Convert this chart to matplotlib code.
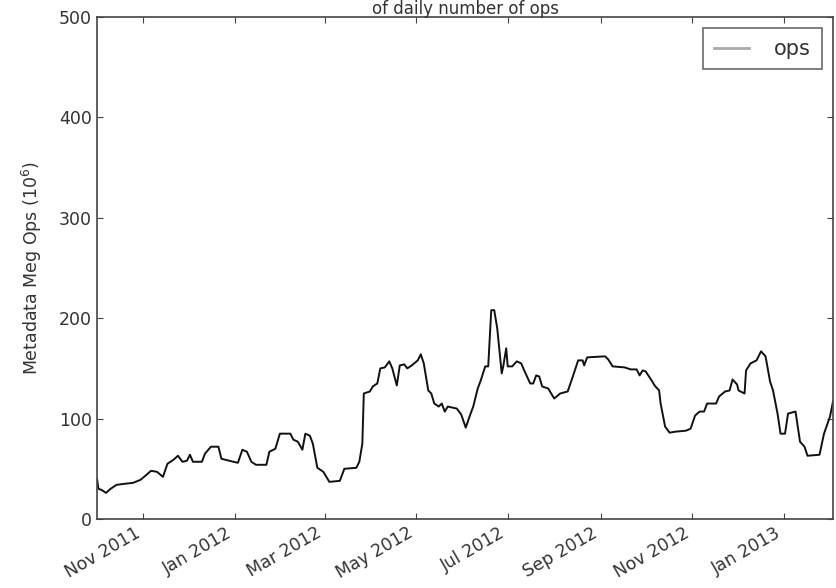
import pandas as pd
import matplotlib
matplotlib.use("Agg")
from matplotlib import pyplot as plt
import matplotlib.dates as mdates

# days since 2011-10-01 and the daily ops (millions)
start = pd.Timestamp("2011-10-01")
day = [0, 1, 3, 6, 9, 13, 18, 24, 29, 33, 36, 40, 44, 47, 51, 54, 57, 60, 62, 64,
       70, 72, 76, 81, 83, 91, 94, 97, 100, 103, 106, 113, 115, 119, 122, 129, 131,
       134, 137, 139, 142, 144, 147, 151, 155, 162, 165, 173, 175, 177, 178, 182,
       184, 187, 189, 192, 195, 197, 200, 202, 205, 207, 210, 214, 216, 218, 221,
       223, 225, 228, 230, 232, 234, 240, 243, 246, 249, 251, 254, 256, 259, 261,
       263, 265, 267, 270, 271, 273, 274, 277, 280, 283, 285, 289, 291, 293, 295,
       297, 301, 305, 309, 314, 317, 321, 324, 325, 327, 339, 341, 344, 352, 356,
       360, 362, 364, 366, 370, 372, 375, 376, 379, 382, 386, 393, 396, 399, 402,
       405, 407, 413, 415, 419, 422, 424, 427, 428, 432, 433, 436, 440, 443, 446,
       449, 451, 454, 456, 459, 461, 466, 469, 472, 474, 482, 485, 489, 491]
ops = [40, 30, 29, 26, 30, 34, 35, 36, 39, 44, 48, 47, 42, 55, 59, 63, 57, 58, 64, 57,
       57, 65, 72, 72, 60, 57, 56, 69, 67, 57, 54, 54, 67, 70, 85, 85, 79,
       77, 69, 85, 83, 75, 51, 47, 37, 38, 50, 51, 57, 75, 125, 127,
       132, 135, 150, 151, 157, 150, 133, 153, 154, 150, 153, 158, 164, 155, 128,
       125, 115, 112, 115, 107, 112, 110, 104, 91, 104, 112, 130, 138, 152, 152,
       208, 208, 190, 145, 152, 170, 152, 152, 157, 155, 148, 135, 135, 143, 142,
       132, 130, 120, 125, 127, 140, 158, 158, 153, 161, 162, 159, 152, 151, 149,
       149, 143, 148, 147, 138, 133, 128, 115, 92, 86, 87, 88, 90, 103, 107,
       107, 115, 115, 122, 127, 128, 139, 134, 128, 125, 148, 155, 158, 167, 162,
       137, 128, 105, 85, 85, 105, 107, 77, 72, 63, 64, 85, 102, 117]

dates = start + pd.to_timedelta(day, unit="D")
series = pd.Series(ops, index=dates)

fig = plt.figure(figsize=[8.36, 5.88], dpi=100)
ax = fig.add_axes([97 / 836, 69 / 588, 736 / 836, 502 / 588])

ax.plot(series.index, series.values, color="#111111", linewidth=1.4, label="ops")

ax.set_xlim(start, start + pd.Timedelta(days=491))
ax.set_ylim(0, 500)
ax.set_yticks([0, 100, 200, 300, 400, 500])
ax.xaxis.set_major_locator(mdates.MonthLocator(bymonth=[1, 3, 5, 7, 9, 11]))
ax.xaxis.set_major_formatter(mdates.DateFormatter("%b %Y"))
ax.tick_params(direction="in", top=True, right=True, length=4, labelsize=12.5,
               labelcolor="#333333", color="#444444")
plt.setp(ax.get_xticklabels(), rotation=30, ha="right")

for s in ax.spines.values():
    s.set_color("#444444")
    s.set_linewidth(1.2)

ax.set_ylabel(r"Metadata Meg Ops ($10^6$)", fontsize=12.5, color="#333333",
              labelpad=11)
# title sits right at the top edge, as in the cropped original
fig.text(465 / 836, 1.0, "of daily number of ops", fontsize=12, color="#333333",
         ha="center", va="top")

leg = ax.legend(loc="upper right", fontsize=15, fancybox=False, handlelength=1.7,
                handletextpad=1.2, borderpad=0.5, borderaxespad=0.55)
leg.get_frame().set_edgecolor("#444444")
leg.get_frame().set_linewidth(1.2)
for t in leg.get_texts():
    t.set_color("#333333")
for h in leg.get_lines():
    h.set_color("#aaaaaa")
    h.set_linewidth(2)

fig.savefig("out.png", dpi=100)
